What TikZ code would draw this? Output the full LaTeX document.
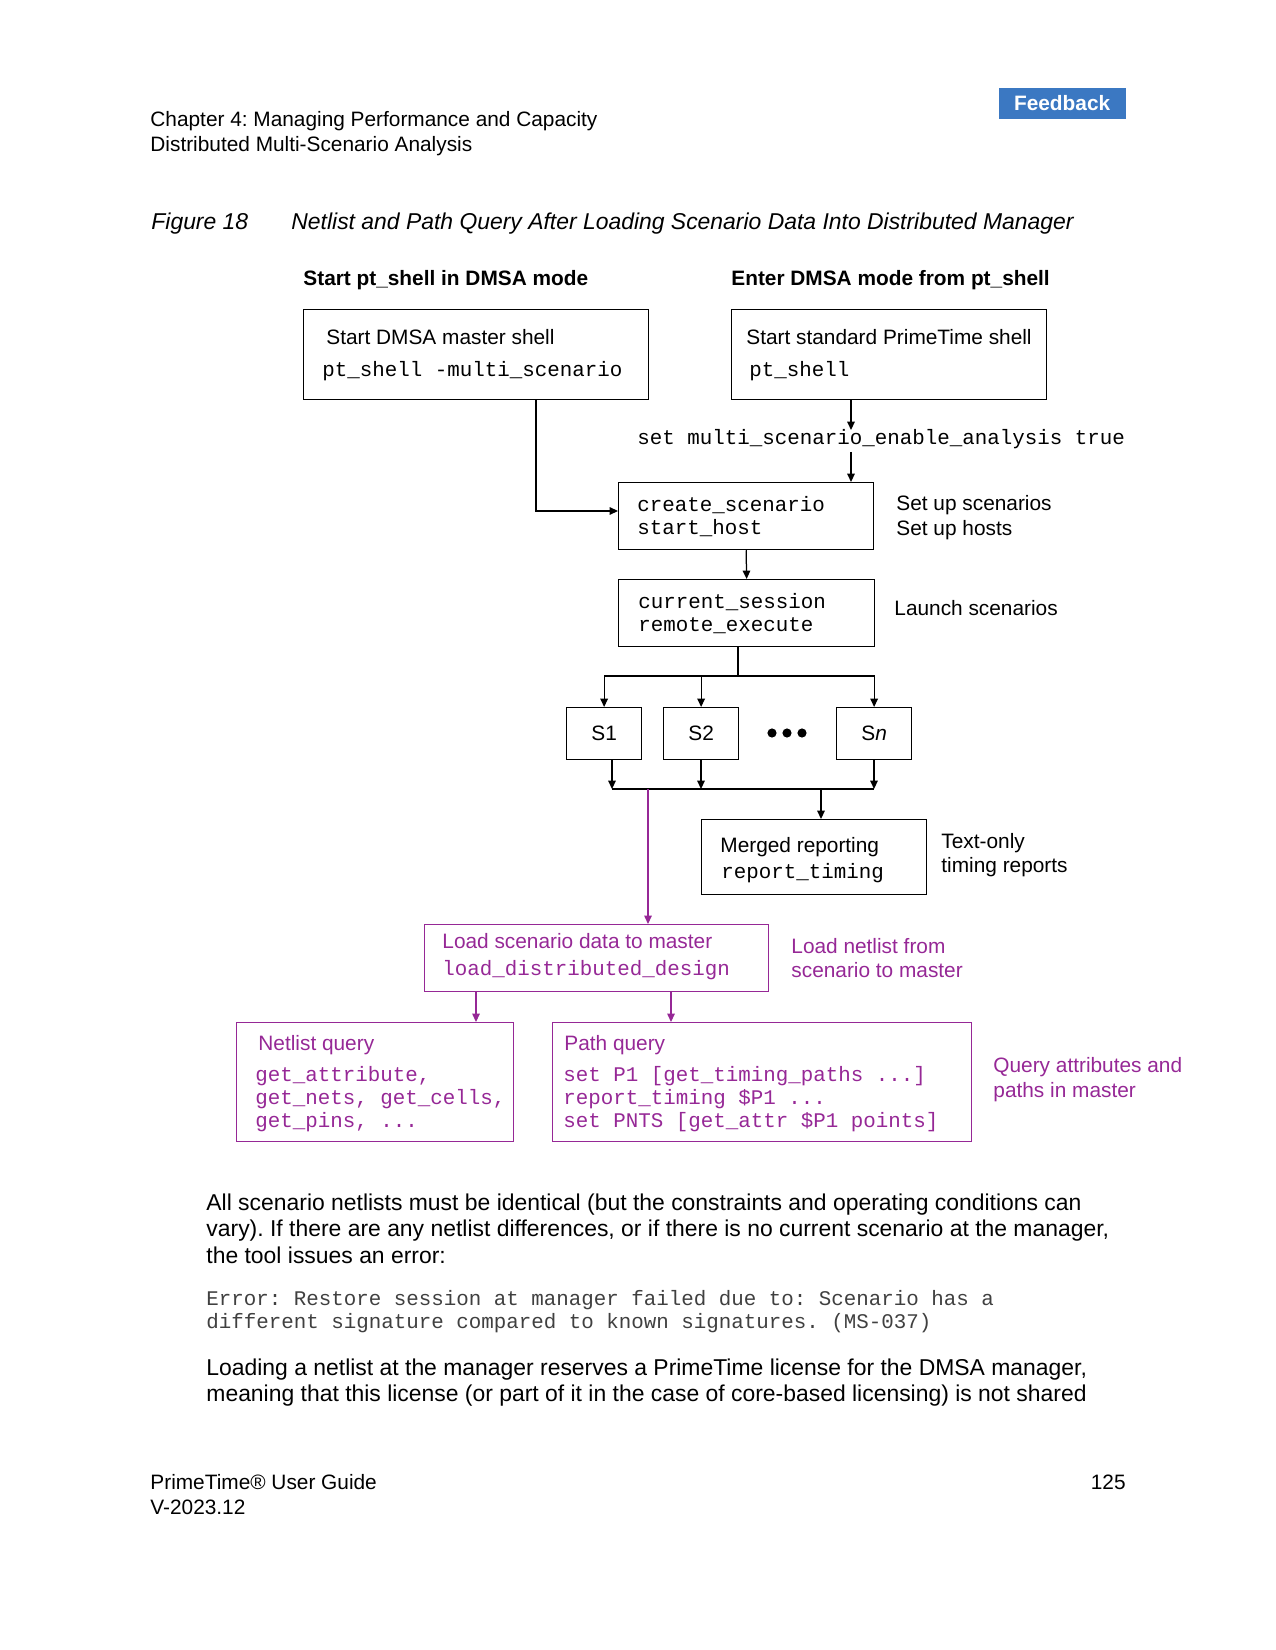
\documentclass[tikz,border=0pt]{standalone}
\usepackage{fontspec}
\setmainfont{Liberation Sans}
\setmonofont{Liberation Mono}
\usetikzlibrary{arrows.meta}
\definecolor{pur}{RGB}{150,40,150}
\definecolor{fbblue}{RGB}{59,120,194}
\newcommand\mkbox[6][]{\node[boxst,#1,minimum width={(#5-#3)*0.48pt},minimum height={(#6-#4)*0.48pt}] (#2) at (#3,#4)}
\frenchspacing
\begin{document}
\begin{tikzpicture}[x=0.48pt,y=-0.48pt,
  txt/.style={anchor=base west,inner sep=0pt,font=\fontsize{10}{12}\selectfont},
  big/.style={anchor=base west,inner sep=0pt,font=\fontsize{11}{13}\selectfont},
  code/.style={anchor=base west,inner sep=0pt,font=\fontsize{10}{12}\selectfont\ttfamily},
  boxst/.style={draw,line width=0.6pt,anchor=north west,inner sep=0pt,font=\fontsize{10}{12}\selectfont},
  arr/.style={line width=0.6pt,-{Triangle[length=4pt,width=3.6pt]}},
  parr/.style={line width=0.5pt,draw=pur,-{Triangle[length=4pt,width=3.6pt]}},
  ln/.style={line width=0.6pt},
  ]
\useasboundingbox (0,0) rectangle (1275,1650);

% page header
\node[txt] (hd1) at (150,127) {Chapter 4: Managing Performance and Capacity};
\node[txt] (hd2) at (150,152) {Distributed Multi-Scenario Analysis};
\mkbox[fill=fbblue,draw=none,text=white]{fb}{998}{87}{1125}{118} {\textbf{Feedback}};
\node[big,font=\fontsize{11}{13}\selectfont\itshape] (fig) at (151,230) {Figure 18};
\node[big,font=\fontsize{11}{13}\selectfont\itshape] (cap) at (291,230) {Netlist and Path Query After Loading Scenario Data Into Distributed Manager};

% column headings
\node[txt,font=\fontsize{10}{12}\selectfont\bfseries] (h1) at (303,286) {Start pt\_shell in DMSA mode};
\node[txt,font=\fontsize{10}{12}\selectfont\bfseries] (h2) at (731,286) {Enter DMSA mode from pt\_shell};

% boxes
\mkbox{b1}{303}{309}{648}{399} {};
\mkbox{b2}{731}{309}{1046}{399} {};
\mkbox{cs}{618}{482}{873}{549} {};
\mkbox{cur}{618}{579}{874}{646} {};
\mkbox{s1}{566}{707}{641}{759} {S1};
\mkbox{s2}{663}{707}{738}{759} {S2};
\mkbox{sn}{836}{707}{911}{759} {S\textit{n}};
\mkbox{mg}{701}{819}{926}{894} {};
\mkbox[draw=pur]{ld}{424}{924}{768}{991} {};
\mkbox[draw=pur]{nq}{236}{1022}{513}{1141} {};
\mkbox[draw=pur]{pq}{552}{1022}{971}{1141} {};

% box texts
\node[txt] (b1a) at (326,345) {Start DMSA master shell};
\node[code] (b1b) at (322,377) {pt\_shell -multi\_scenario};
\node[txt] (b2a) at (746,345) {Start standard PrimeTime shell};
\node[code] (b2b) at (749,377) {pt\_shell};
\node[code] (setl) at (637,444) {set multi\_scenario\_enable\_analysis true};
\node[code] (csa) at (637,511) {create\_scenario};
\node[code] (csb) at (637,534) {start\_host};
\node[txt] (csc) at (896,510) {Set up scenarios};
\node[txt] (csd) at (896,535) {Set up hosts};
\node[code] (cua) at (638,608) {current\_session};
\node[code] (cub) at (638,631) {remote\_execute};
\node[txt] (cuc) at (894,615) {Launch scenarios};
\node[txt] (mga) at (720,852) {Merged reporting};
\node[code] (mgb) at (721,878) {report\_timing};
\node[txt] (mgc) at (941,848) {Text-only};
\node[txt] (mgd) at (941,872) {timing reports};

\begin{scope}[text=pur]
\node[txt] (lda) at (442,948) {Load scenario data to master};
\node[code] (ldb) at (442,975) {load\_distributed\_design};
\node[txt] (ldc) at (791,953) {Load netlist from};
\node[txt] (ldd) at (791,977) {scenario to master};
\node[txt] (nqa) at (258,1050) {Netlist query};
\node[code] (nqb) at (255,1081) {get\_attribute,};
\node[code] (nqc) at (255,1104) {get\_nets, get\_cells,};
\node[code] (nqd) at (255,1127) {get\_pins, ...};
\node[txt] (pqa) at (564,1050) {Path query};
\node[code] (pqb) at (563,1081) {set P1 [get\_timing\_paths ...]};
\node[code] (pqc) at (563,1104) {report\_timing \$P1 ...};
\node[code] (pqd) at (563,1127) {set PNTS [get\_attr \$P1 points]};
\node[txt] (pqe) at (993,1072) {Query attributes and};
\node[txt] (pqf) at (993,1097) {paths in master};
\end{scope}

% dots
\fill (772,733) circle[radius=2.2pt];
\fill (787,733) circle[radius=2.2pt];
\fill (802,733) circle[radius=2.2pt];

% connectors
\coordinate (j1) at (536,511);
\draw[arr] (b1.south -| j1) |- (cs.west |- j1);
\coordinate (a1) at (851,430);
\coordinate (a2) at (851,452);
\draw[arr] (b2.south -| a1) -- (a1);
\draw[arr] (a2) -- (cs.north -| a2);
\draw[arr] (cs.south) -- (cur.north);
\coordinate (f1) at (738,676);
\draw[ln] (cur.south -| f1) -- (f1);
\draw[arr] (f1) -| (s1.north);
\draw[arr] (f1) -| (s2.north);
\draw[arr] (f1) -| (sn.north);
\coordinate (g1) at (612,789);
\coordinate (g2) at (701,789);
\coordinate (g3) at (874,789);
\coordinate (g4) at (821,789);
\coordinate (g5) at (648,789);
\draw[arr] (s1.south -| g1) -- (g1);
\draw[arr] (s2.south -| g2) -- (g2);
\draw[arr] (sn.south -| g3) -- (g3);
\draw[ln] (g1) -- (g3);
\draw[arr] (g4) -- (mg.north -| g4);
\draw[parr] (g5) -- (ld.north -| g5);
\coordinate (k1) at (476,991);
\coordinate (k2) at (671,991);
\draw[parr] (ld.south -| k1) -- (nq.north -| k1);
\draw[parr] (ld.south -| k2) -- (pq.north -| k2);

% body text
\node[big] (p1) at (206,1210) {All scenario netlists must be identical (but the constraints and operating conditions can};
\node[big] (p2) at (206,1236) {vary). If there are any netlist differences, or if there is no current scenario at the manager,};
\node[big] (p3) at (206,1263) {the tool issues an error:};
\node[code,text=black!75] (e1) at (206,1305) {Error: Restore session at manager failed due to: Scenario has a};
\node[code,text=black!75] (e2) at (206,1328) {different signature compared to known signatures. (MS-037)};
\node[big] (p4) at (206,1375) {Loading a netlist at the manager reserves a PrimeTime license for the DMSA manager,};
\node[big] (p5) at (206,1401) {meaning that this license (or part of it in the case of core-based licensing) is not shared};

% footer
\node[txt] (ft1) at (150,1489) {PrimeTime® User Guide};
\node[txt] (ft2) at (150,1514) {V-2023.12};
\node[txt,anchor=base east] (pg) at (1126,1489) {125};
\end{tikzpicture}
\end{document}
